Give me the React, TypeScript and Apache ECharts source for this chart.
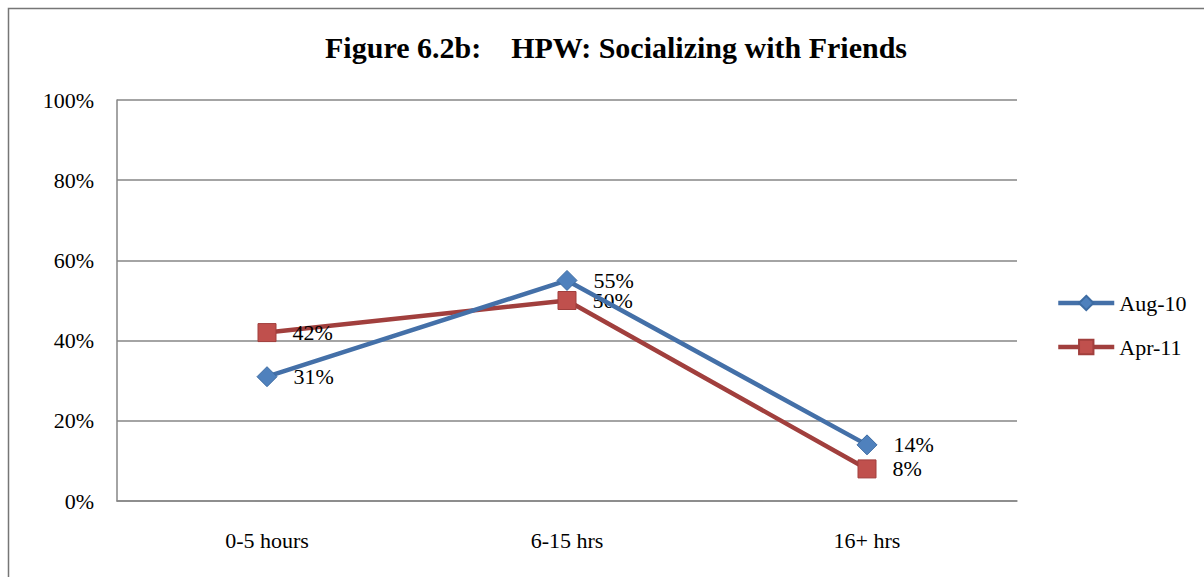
import React, { useEffect, useRef } from "react";
import * as echarts from "echarts";

const categories = ["0-5 hours", "6-15 hrs", "16+ hrs"];
const aug10 = [31, 55, 14];
const apr11 = [42, 50, 8];
const yTicks = [0, 20, 40, 60, 80, 100];
const seriesNames = ["Aug-10", "Apr-11"];

const FONT = "'Liberation Serif', 'DejaVu Serif', serif";

export default function App() {
  const ref = useRef<HTMLDivElement>(null);
  useEffect(() => {
    if (!ref.current) return;
    const chart = echarts.init(ref.current, undefined, { renderer: "svg" });
    const label = {
      show: true,
      position: "right",
      distance: 16,
      formatter: "{c}%",
      fontFamily: FONT,
      fontSize: 22,
      color: "#000",
    };
    chart.setOption({
      animation: false,
      backgroundColor: "#ffffff",
      textStyle: { fontFamily: FONT },
      title: {
        text: "Figure 6.2b:    HPW: Socializing with Friends",
        left: 611,
        textAlign: "center",
        top: 27,
        textStyle: { fontFamily: FONT, fontSize: 30, fontWeight: "bold", color: "#000" },
      },
      graphic: [
        {
          type: "rect",
          shape: { x: 8.5, y: 8.5, width: 1300, height: 700 },
          style: { fill: "none", stroke: "#767676", lineWidth: 1.5 },
          silent: true,
        },
      ],
      legend: {
        orient: "vertical",
        left: 1056,
        top: 292,
        padding: 0,
        itemWidth: 56,
        itemHeight: 18,
        itemGap: 22,
        data: seriesNames,
        lineStyle: { width: 4.5 },
        textStyle: { fontFamily: FONT, fontSize: 22, color: "#000", padding: [0, 0, 0, 0] },
      },
      grid: { left: 117, right: 187, top: 100, bottom: 76, containLabel: false },
      xAxis: {
        type: "category",
        data: categories,
        boundaryGap: true,
        axisLine: { lineStyle: { color: "#868686", width: 1.5 } },
        axisTick: { show: false },
        axisLabel: { fontFamily: FONT, fontSize: 22, color: "#000", margin: 28 },
      },
      yAxis: {
        type: "value",
        min: yTicks[0],
        max: yTicks[yTicks.length - 1],
        interval: 20,
        axisLine: { show: true, lineStyle: { color: "#868686", width: 1.5 } },
        axisTick: { show: false },
        splitLine: { lineStyle: { color: "#868686", width: 1.5 } },
        axisLabel: { fontFamily: FONT, fontSize: 22, color: "#000", margin: 23, formatter: "{value}%" },
      },
      series: [
        {
          name: seriesNames[0],
          type: "line",
          data: aug10,
          symbol: "diamond",
          symbolSize: 20,
          lineStyle: { color: "#4470A8", width: 4.5 },
          itemStyle: { color: "#4F81BD", borderColor: "#3D6CA3", borderWidth: 1 },
          label,
          z: 3,
        },
        {
          name: seriesNames[1],
          type: "line",
          data: apr11,
          symbol: "rect",
          symbolSize: 18,
          lineStyle: { color: "#A13F3D", width: 4.5 },
          itemStyle: { color: "#C0504D", borderColor: "#A13F3D", borderWidth: 1 },
          label,
          z: 2,
        },
      ],
    });
    return () => chart.dispose();
  }, []);
  return (
    <div
      ref={ref}
      style={{ position: "fixed", left: 0, top: 0, width: 1204, height: 577 }}
    />
  );
}
